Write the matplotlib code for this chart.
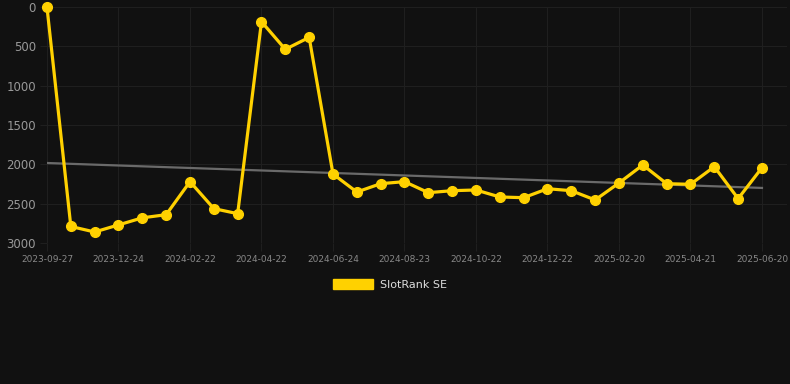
import matplotlib.pyplot as plt
import numpy as np
from matplotlib.patches import Patch

# data (rank, lower is better)
ranks = [5, 2790, 2860, 2770, 2680, 2640, 2220, 2563, 2627, 187, 538, 386,
         2123, 2352, 2246, 2220, 2360, 2335, 2326, 2415, 2424, 2310, 2335,
         2453, 2237, 2008, 2246, 2254, 2030, 2436, 2043]
trend_ends = [1983, 2300]
tick_labels = ['2023-09-27', '2023-12-24', '2024-02-22', '2024-04-22', '2024-06-24',
               '2024-08-23', '2024-10-22', '2024-12-22', '2025-02-20', '2025-04-21',
               '2025-06-20']
y_ticks = [0, 500, 1000, 1500, 2000, 2500, 3000]

bg = '#111111'
gold = '#FFD100'
grid_c = '#1f1f1f'

xs = np.arange(len(ranks))

fig = plt.figure(figsize=(7.9, 3.84), dpi=100, facecolor=bg)
ax = fig.add_axes([47/790, 1-243/384, (787-47)/790, (243-7)/384])
ax.set_facecolor(bg)

ax.plot([xs[0], xs[-1]], trend_ends, color='#6a6a6a', lw=1.6, zorder=2)
ax.plot(xs, ranks, color=gold, lw=2.3, marker='o', ms=7, zorder=3, clip_on=False)

ax.set_xlim(0, 31.05)
ax.set_ylim(3000, 0)
ax.set_yticks(y_ticks)
ax.set_xticks(xs[::3])
ax.set_xticklabels(tick_labels)
ax.grid(True, color=grid_c, lw=0.8)
ax.set_axisbelow(True)
for s in ax.spines.values():
    s.set_visible(False)
ax.tick_params(axis='y', colors=grid_c, labelcolor='#999999', labelsize=8.5, length=5, pad=3)
ax.tick_params(axis='x', colors=grid_c, labelcolor='#888888', labelsize=6.5, length=6, pad=3)

fig.legend(handles=[Patch(color=gold, label='SlotRank SE')], loc='upper center',
           bbox_to_anchor=(0.5 - 5/790, 1-269/384), frameon=False, fontsize=8,
           labelcolor='#dddddd', handlelength=3.6, handleheight=1.0, handletextpad=0.6)

fig.savefig('out.png', dpi=100, facecolor=bg)
